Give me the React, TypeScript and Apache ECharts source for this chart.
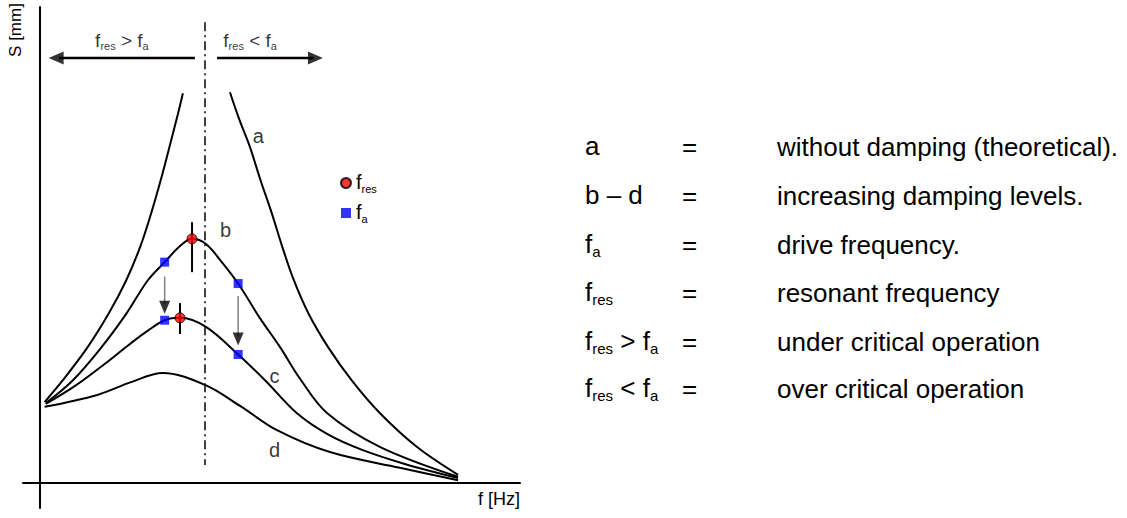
import React, { useEffect, useRef } from "react";
import * as echarts from "echarts";

// Axis extents (arbitrary frequency / amplitude units; both axes cross at 0)
const X_MIN = -3.5;
const X_MAX = 100;
const Y_MIN = -5.25;
const Y_MAX = 100;

// Response curves [f, S]
const curveALeft = [
  [1.0, 17.0], [4.8, 21.6], [10.0, 28.6], [14.4, 35.7], [18.0, 42.6], [20.9, 49.6],
  [23.2, 56.7], [25.2, 63.7], [27.0, 70.6], [28.8, 77.7], [29.8, 81.9],
];
const curveARight = [
  [39.6, 82.1], [41.5, 76.5], [43.75, 70.6], [46.0, 63.5], [48.3, 56.7], [50.5, 49.6],
  [52.9, 42.6], [56.0, 35.5], [60.0, 28.6], [65.0, 21.5], [70.8, 14.7], [78.5, 7.6], [87.1, 1.7],
];
const curveB = [
  [1.25, 16.8], [6.9, 21.6], [12.9, 28.6], [18.1, 35.7], [22.5, 42.6], [26.0, 46.4],
  [29.2, 49.8], [31.7, 51.3], [34.6, 50.2], [37.9, 46.4], [41.3, 41.9], [45.8, 34.7],
  [50.0, 28.6], [54.2, 21.9], [59.8, 14.7], [70.8, 7.6], [87.1, 1.3],
];
const curveC = [
  [1.25, 16.6], [7.5, 20.5], [13.5, 25.0], [18.5, 29.0], [22.5, 32.0], [26.0, 34.2],
  [29.2, 34.7], [34.6, 32.8], [41.3, 27.0], [46.9, 21.6], [53.5, 14.7], [60.0, 10.2],
  [67.0, 7.0], [76.0, 4.0], [87.1, 1.05],
];
const curveD = [
  [1.0, 16.0], [12.0, 18.5], [19.0, 21.2], [25.6, 23.1], [34.4, 20.6], [41.7, 16.2],
  [49.4, 11.1], [60.4, 6.5], [75.0, 3.2], [87.1, 0.6],
];

// Resonant peaks and drive-frequency points
const resonancePoints = [[31.7, 51.3], [29.2, 34.7]];
const drivePoints = [[26.0, 46.4], [26.0, 34.2], [41.3, 41.9], [41.3, 27.0]];
const resonanceTicks = [
  [[31.7, 44.3], [31.7, 54.8]],
  [[29.2, 31.3], [29.2, 37.8]],
];

// Damping arrows: shaft from/to, head centre
const dampingShafts = [
  [[26.0, 43.4], [26.0, 37.5]],
  [[41.3, 39.3], [41.3, 30.8]],
];
const dampingHeads = [[26.0, 36.9], [41.3, 30.25]];

// Operating-region arrows along the top
const REGION_Y = 89.3;
const regionShafts = [
  [[32.3, REGION_Y], [4.0, REGION_Y]],
  [[36.9, REGION_Y], [57.0, REGION_Y]],
];
const regionHeads = [[3.4, REGION_Y, 90], [57.4, REGION_Y, -90]];
const regionLabels = [
  { value: [17.1, 92.8], text: "{m|f}{s|res}{m| > f}{s|a}" },
  { value: [43.8, 92.8], text: "{m|f}{s|res}{m| < f}{s|a}" },
];

// Resonance divider (dash-dot)
const dividerLine = [[34.4, 96.8], [34.4, 3.8]];

// Curve letters
const curveLetters = [
  { value: [45.5, 73.0], text: "a" },
  { value: [38.7, 53.2], text: "b" },
  { value: [48.9, 22.5], text: "c" },
  { value: [48.9, 6.9], text: "d" },
];

// Key on the right
const keyTerms = [
  "{m|a}",
  "{m|b – d}",
  "{m|f}{s|a}",
  "{m|f}{s|res}",
  "{m|f}{s|res}{m| > f}{s|a}",
  "{m|f}{s|res}{m| < f}{s|a}",
];
const keyMeanings = [
  "without damping (theoretical).",
  "increasing damping levels.",
  "drive frequency.",
  "resonant frequency",
  "under critical operation",
  "over critical operation",
];

const FONT = "'Liberation Sans', Arial, Helvetica, sans-serif";

// Rich text with a lowered, smaller subscript
const richFor = (size: number) => {
  const subSize = Math.round(size * 0.56);
  const lineH = size + 2;
  return {
    m: {
      fontSize: size,
      fontFamily: FONT,
      color: "#000",
      lineHeight: lineH,
      verticalAlign: "top",
    },
    s: {
      fontSize: subSize,
      fontFamily: FONT,
      color: "#000",
      lineHeight: lineH - 8,
      verticalAlign: "bottom",
    },
  };
};

const curveSeries = (name: string, data: number[][]) => ({
  name,
  type: "line",
  data,
  smooth: 0.35,
  symbol: "none",
  silent: true,
  lineStyle: { color: "#000", width: 2 },
  z: 3,
});

const segmentSeries = (name: string, data: number[][], color: string, width: number, type: any = "solid") => ({
  name,
  type: "line",
  data,
  symbol: "none",
  silent: true,
  lineStyle: { color, width, type },
  z: 2,
});

export default function App() {
  const ref = useRef<HTMLDivElement>(null);

  useEffect(() => {
    if (!ref.current) return;
    const chart = echarts.init(ref.current, undefined, { renderer: "svg" });

    const KEY_SIZE = 26;
    const keyRowsY = [147, 196, 245, 293, 342, 389];
    const graphicTexts: any[] = [];
    keyRowsY.forEach((y, i) => {
      graphicTexts.push({
        type: "text",
        x: 585,
        y,
        style: { text: keyTerms[i], rich: richFor(KEY_SIZE), verticalAlign: "middle", align: "left" },
      });
      graphicTexts.push({
        type: "text",
        x: 682,
        y,
        style: { text: "=", font: `${KEY_SIZE}px ${FONT}`, fill: "#000", verticalAlign: "middle", align: "left" },
      });
      graphicTexts.push({
        type: "text",
        x: 777,
        y,
        style: { text: keyMeanings[i], font: `${KEY_SIZE}px ${FONT}`, fill: "#000", verticalAlign: "middle", align: "left" },
      });
    });
    graphicTexts.push({
      type: "text",
      x: 15,
      y: 30,
      rotation: Math.PI / 2,
      style: { text: "S [mm]", font: `17px ${FONT}`, fill: "#000", align: "center", verticalAlign: "middle" },
    });

    const splitSeries: any[] = [];
    resonanceTicks.forEach((seg, i) => splitSeries.push(segmentSeries(`tick${i}`, seg, "#000", 2)));
    dampingShafts.forEach((seg, i) => splitSeries.push(segmentSeries(`shaft${i}`, seg, "#808080", 1.5)));
    regionShafts.forEach((seg, i) => splitSeries.push(segmentSeries(`region${i}`, seg, "#000", 2.5)));

    chart.setOption({
      animation: false,
      backgroundColor: "#fff",
      grid: { left: 23, right: 607, top: 7, bottom: 10 },
      xAxis: {
        type: "value",
        min: X_MIN,
        max: X_MAX,
        name: "f [Hz]",
        nameLocation: "end",
        nameGap: 0,
        nameTextStyle: {
          fontFamily: FONT,
          fontSize: 18,
          color: "#000",
          align: "right",
          verticalAlign: "top",
          padding: [7, 0, 0, 0],
        },
        axisLine: { show: true, onZero: true, lineStyle: { color: "#000", width: 2 } },
        axisTick: { show: false },
        axisLabel: { show: false },
        splitLine: { show: false },
      },
      yAxis: {
        type: "value",
        min: Y_MIN,
        max: Y_MAX,
        axisLine: { show: true, onZero: true, lineStyle: { color: "#000", width: 2 } },
        axisTick: { show: false },
        axisLabel: { show: false },
        splitLine: { show: false },
      },
      legend: {
        orient: "vertical",
        left: 335,
        top: 167,
        itemWidth: 10,
        itemHeight: 10,
        itemGap: 8,
        selectedMode: false,
        data: [
          { name: "f_res", icon: "circle" },
          { name: "f_a", icon: "rect" },
        ],
        formatter: (name: string) => (name === "f_res" ? "{m|f}{s|res}" : "{m|f}{s|a}"),
        textStyle: { rich: richFor(20) },
      },
      graphic: { elements: graphicTexts },
      series: [
        segmentSeries("divider", dividerLine, "#000", 1.5, [9, 4, 2, 4]),
        curveSeries("a-left", curveALeft),
        curveSeries("a-right", curveARight),
        curveSeries("b", curveB),
        curveSeries("c", curveC),
        curveSeries("d", curveD),
        ...splitSeries,
        {
          name: "heads",
          type: "scatter",
          silent: true,
          symbol: "triangle",
          symbolSize: [11, 13],
          symbolRotate: 180,
          itemStyle: { color: "#000" },
          data: dampingHeads,
          z: 4,
        },
        {
          name: "regionHeads",
          type: "scatter",
          silent: true,
          symbol: "triangle",
          symbolSize: [13, 15],
          symbolRotate: (v: number[]) => v[2],
          itemStyle: { color: "#000" },
          data: regionHeads,
          z: 4,
        },
        {
          name: "f_res",
          type: "scatter",
          silent: true,
          symbol: "circle",
          symbolSize: 10,
          itemStyle: { color: "#ff0000", borderColor: "#000", borderWidth: 1 },
          data: resonancePoints,
          z: 6,
        },
        {
          name: "f_a",
          type: "scatter",
          silent: true,
          symbol: "rect",
          symbolSize: 9,
          itemStyle: { color: "#0000ff" },
          data: drivePoints,
          z: 6,
        },
        {
          name: "curveLetters",
          type: "scatter",
          silent: true,
          symbolSize: 0,
          data: curveLetters,
          label: {
            show: true,
            position: "inside",
            formatter: (p: any) => p.data.text,
            fontFamily: FONT,
            fontSize: 20,
            color: "#000",
          },
        },
        {
          name: "regionLabels",
          type: "scatter",
          silent: true,
          symbolSize: 0,
          data: regionLabels,
          label: {
            show: true,
            position: "inside",
            formatter: (p: any) => p.data.text,
            rich: richFor(19),
          },
        },
      ],
    });

    return () => chart.dispose();
  }, []);

  return (
    <div
      ref={ref}
      style={{ position: "fixed", left: 0, top: 0, width: 1127, height: 518, background: "#fff" }}
    />
  );
}
